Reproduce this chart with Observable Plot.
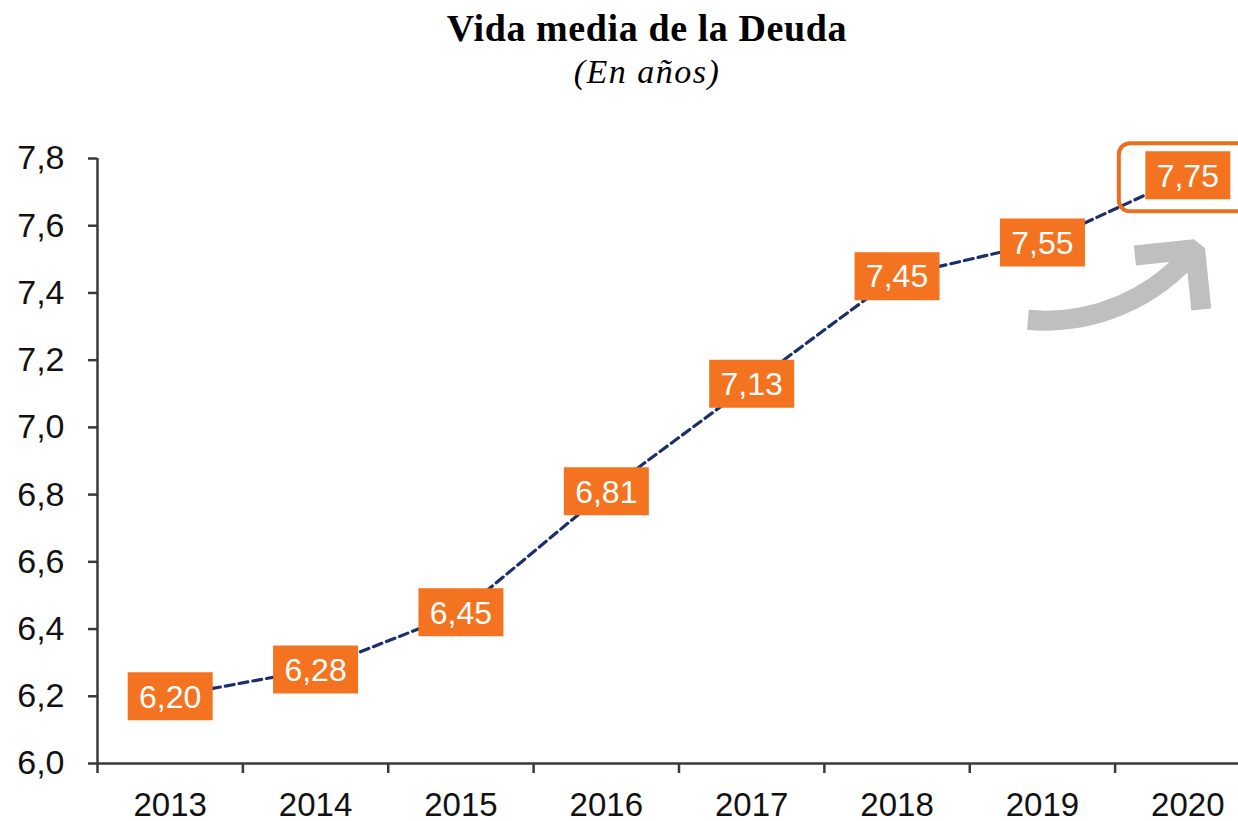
<!DOCTYPE html>
<html>
<head>
<meta charset="utf-8">
<script src="https://cdn.jsdelivr.net/npm/d3@7"></script>
<script src="https://cdn.jsdelivr.net/npm/@observablehq/plot@0.6"></script>
<style>
  html, body { margin: 0; padding: 0; background: #fff; overflow: hidden; width: 1238px; height: 821px; }
  #title { position: absolute; left: 0; width: 1238px; top: 9px; text-align: center; letter-spacing: 0.6px;
    font: bold 38px/38px "Liberation Serif", "DejaVu Serif", serif; color: #000; padding-left: 56px; box-sizing: border-box; }
  #subtitle { position: absolute; left: 0; width: 1238px; top: 55px; text-align: center; letter-spacing: 1.5px;
    font: italic 34px/34px "Liberation Serif", "DejaVu Serif", serif; color: #000; padding-left: 56px; box-sizing: border-box; }
  #chart { position: absolute; left: 0; top: 110px; width: 1260px; }
  #chart svg { max-width: none !important; }
</style>
</head>
<body>
<div id="title">Vida media de la Deuda</div>
<div id="subtitle">(En años)</div>
<div id="chart"></div>
<script>
// Data
const years = [2013, 2014, 2015, 2016, 2017, 2018, 2019, 2020];
const vidaMedia = [6.20, 6.28, 6.45, 6.81, 7.13, 7.45, 7.55, 7.75];
const yTicks = [6.0, 6.2, 6.4, 6.6, 6.8, 7.0, 7.2, 7.4, 7.6, 7.8];
const highlightYear = [2020];
// decorative growth arrow (from / to, in chart units)
const arrowFrom = {year: 2018.9, value: 7.32};
const arrowTo = {year: 2020.05, value: 7.53};

const data = years.map((y, i) => ({year: y, value: vidaMedia[i]}));
const xBounds = years.map(y => y - 0.5).concat([years[years.length - 1] + 0.5]);
const fmt2 = v => d3.format(".2f")(v).replace(".", ",");
const fmt1 = v => d3.format(".1f")(v).replace(".", ",");

const orange = "#f47321";
const navy = "#1c2f6b";
const axisColor = "#3a3a3a";
const sans = "'Liberation Sans', Arial, sans-serif";

const boxSymbol = { draw(ctx) { ctx.rect(-42.5, -24, 85, 48); } };
const roundBox = { draw(ctx) {
  const w = 138, h = 68, r = 11, x0 = -w / 2, y0 = -h / 2, x1 = w / 2, y1 = h / 2;
  ctx.moveTo(x0 + r, y0);
  ctx.lineTo(x1 - r, y0); ctx.arcTo(x1, y0, x1, y0 + r, r);
  ctx.lineTo(x1, y1 - r); ctx.arcTo(x1, y1, x1 - r, y1, r);
  ctx.lineTo(x0 + r, y1); ctx.arcTo(x0, y1, x0, y1 - r, r);
  ctx.lineTo(x0, y0 + r); ctx.arcTo(x0, y0, x0 + r, y0, r);
  ctx.closePath();
} };

const chart = Plot.plot({
  width: 1260,
  height: 711,
  marginLeft: 97,
  marginRight: 0,
  marginTop: 48,
  marginBottom: 58,
  style: { fontFamily: sans, background: "transparent", overflow: "visible", maxWidth: "none" },
  x: { type: "linear", domain: [years[0] - 0.5, years[years.length - 1] + 0.5] },
  y: { domain: [6.0, 7.8] },
  marks: [
    Plot.axisY({ ticks: yTicks, tickFormat: fmt1, tickSize: 9, tickPadding: 24, fontSize: 34, stroke: axisColor, strokeWidth: 2.5, fill: "#111", label: null }),
    Plot.axisX({ ticks: xBounds.slice(0, -1), tickFormat: () => "", tickSize: 10, stroke: axisColor, strokeWidth: 2.5, label: null }),
    Plot.axisX({ ticks: years, tickFormat: d => String(d), tickSize: 0, tickPadding: 29, fontSize: 33, fill: "#111", label: null }),
    Plot.ruleX([xBounds[0]], { y1: 6.0, y2: 7.8, stroke: axisColor, strokeWidth: 2.5 }),
    Plot.ruleY([6.0], { stroke: axisColor, strokeWidth: 2.5 }),
    Plot.line(data, { x: "year", y: "value", stroke: navy, strokeWidth: 3.2, strokeDasharray: "9,5" }),
    Plot.dot(data, { x: "year", y: "value", r: 10, symbol: boxSymbol, fill: orange, stroke: null }),
    Plot.text(data, { x: "year", y: "value", text: d => fmt2(d.value), fill: "white", fontSize: 32, fontFamily: sans, dy: 1 }),
    Plot.dot(data.filter(d => highlightYear.includes(d.year)), { x: "year", y: "value", r: 10, symbol: roundBox, fill: "none", stroke: "#e8701e", strokeWidth: 4, dy: 2 }),
    Plot.arrow([{x1: arrowFrom.year, y1: arrowFrom.value, x2: arrowTo.year, y2: arrowTo.value}], {
      x1: "x1", y1: "y1", x2: "x2", y2: "y2", bend: -28, stroke: "#bfbfbf", strokeWidth: 20, headLength: 50, headAngle: 90, strokeLinecap: "butt", strokeLinejoin: "miter"
    })
  ]
});
document.getElementById("chart").appendChild(chart);
</script>
</body>
</html>
